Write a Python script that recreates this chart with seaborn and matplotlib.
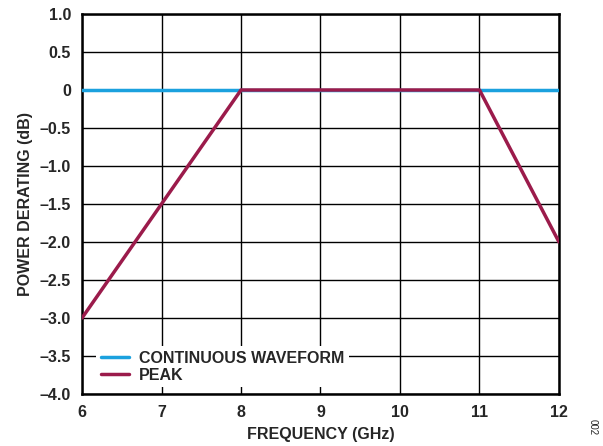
import numpy as np
import pandas as pd
import seaborn as sns
import matplotlib.pyplot as plt

# data
cw_freq = [6, 12]
cw_derating = [0, 0]
peak_freq = [6, 8, 11, 12]
peak_derating = [-3.0, 0.0, 0.0, -2.0]

x_ticks = [6, 7, 8, 9, 10, 11, 12]
y_ticks = [1.0, 0.5, 0, -0.5, -1.0, -1.5, -2.0, -2.5, -3.0, -3.5, -4.0]
y_labels = ['1.0', '0.5', '0', '–0.5', '–1.0', '–1.5', '–2.0', '–2.5', '–3.0', '–3.5', '–4.0']

df = pd.concat([
    pd.DataFrame({'freq': cw_freq, 'db': cw_derating, 'series': 'CONTINUOUS WAVEFORM'}),
    pd.DataFrame({'freq': peak_freq, 'db': peak_derating, 'series': 'PEAK'}),
])

sns.set_theme(style='white')
plt.rcParams['font.family'] = ['Liberation Sans', 'DejaVu Sans']
plt.rcParams['font.weight'] = 'bold'
FS = 11.5

fig = plt.figure(figsize=(6.03, 4.46), dpi=100)
ax = fig.add_axes([0.136, 0.1166, 0.791, 0.852])

palette = {'CONTINUOUS WAVEFORM': '#1BA1DE', 'PEAK': '#9B1B4B'}
sns.lineplot(data=df, x='freq', y='db', hue='series', palette=palette,
             linewidth=2.5, ax=ax, sort=False, zorder=3)

ax.set_xlim(6, 12)
ax.set_ylim(-4, 1)
ax.set_xticks(x_ticks)
ax.set_xticklabels([str(t) for t in x_ticks], fontsize=FS, fontweight='bold')
ax.set_yticks(y_ticks)
ax.set_yticklabels(y_labels, fontsize=FS, fontweight='bold')
ax.grid(True, color='black', linewidth=1.0)
ax.set_axisbelow(True)
ax.tick_params(length=0, pad=8)
for sp in ax.spines.values():
    sp.set_color('black')
    sp.set_linewidth(1.8)

ax.set_xlabel('FREQUENCY (GHz)', fontsize=FS, fontweight='bold', labelpad=5)
ax.set_ylabel('POWER DERATING (dB)', fontsize=FS, fontweight='bold', labelpad=5)

leg = ax.legend(loc='lower left', bbox_to_anchor=(0.02, 0.005), frameon=True,
                fontsize=FS, handlelength=1.75, handletextpad=0.6,
                labelspacing=0.12, borderpad=0.3, borderaxespad=0.3)
leg.get_frame().set_facecolor('white')
leg.get_frame().set_edgecolor('none')
leg.get_frame().set_alpha(1)
leg.get_frame().set_boxstyle('square', pad=0)
for t in leg.get_texts():
    t.set_fontweight('bold')
leg.set_zorder(5)

fig.text(0.982, 0.025, '002', rotation=270, fontsize=7, fontweight='normal',
         ha='center', va='bottom')

fig.savefig('out.png', dpi=100)
